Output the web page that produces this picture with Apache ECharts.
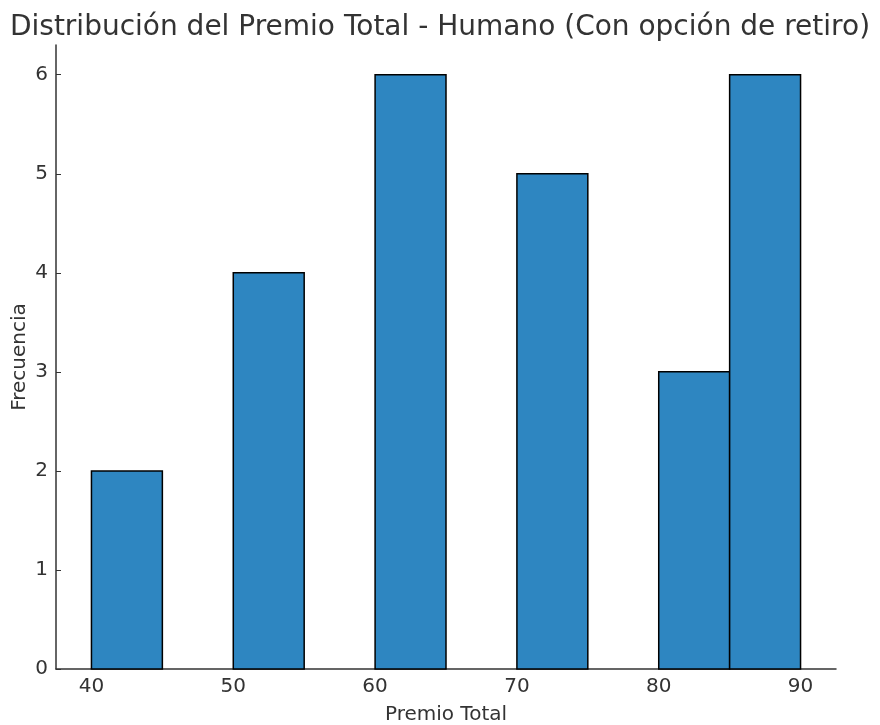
<!DOCTYPE html>
<html>
<head>
<meta charset="utf-8">
<script src="https://cdn.jsdelivr.net/npm/echarts@6/dist/echarts.min.js"></script>
<style>html,body{margin:0;padding:0;background:#fff}#c{width:880px;height:725px}</style>
</head>
<body>
<div id="c"></div>
<script>
const binEdges = [40, 45, 50, 55, 60, 65, 70, 75, 80, 85, 90];
const counts = [2, 0, 4, 0, 6, 0, 5, 0, 3, 6];
const xTicks = [40, 50, 60, 70, 80, 90];
const yTicks = [0, 1, 2, 3, 4, 5, 6];

const data = counts.map((c, i) => [binEdges[i], binEdges[i + 1], c]);

const chart = echarts.init(document.getElementById('c'));
const font = 'DejaVu Sans';
chart.setOption({
  animation: false,
  backgroundColor: '#fff',
  title: {
    text: 'Distribución del Premio Total - Humano (Con opción de retiro)',
    left: 'center', top: 9,
    textStyle: {fontFamily: font, fontSize: 28, fontWeight: 'normal', color: '#333'}
  },
  grid: {left: 56, right: 44, top: 45, bottom: 56, containLabel: false, outerBoundsMode: 'none'},
  xAxis: {
    type: 'value', min: 37.5, max: 92.5,
    name: 'Premio Total', nameLocation: 'middle', nameGap: 36, nameMoveOverlap: false,
    nameTextStyle: {fontFamily: font, fontSize: 20, color: '#333'},
    axisLine: {show: true, lineStyle: {color: '#333', width: 1.5}},
    axisTick: {show: true, inside: true, length: 5, customValues: xTicks, lineStyle: {color: '#333'}},
    axisLabel: {customValues: xTicks, fontFamily: font, fontSize: 20, color: '#333', margin: 8},
    splitLine: {show: false}
  },
  yAxis: {
    type: 'value', min: 0, max: 6.3,
    name: 'Frecuencia', nameLocation: 'middle', nameGap: 26, nameRotate: 90, nameMoveOverlap: false,
    nameTextStyle: {fontFamily: font, fontSize: 20, color: '#333'},
    axisLine: {show: true, lineStyle: {color: '#333', width: 1.5}},
    axisTick: {show: true, inside: true, length: 5, customValues: yTicks, lineStyle: {color: '#333'}},
    axisLabel: {customValues: yTicks, fontFamily: font, fontSize: 20, color: '#333', margin: 8},
    splitLine: {show: false}
  },
  series: [{
    type: 'custom',
    data: data,
    encode: {x: [0, 1], y: 2},
    renderItem: function (params, api) {
      const c = api.value(2);
      if (c <= 0) return null;
      const p0 = api.coord([api.value(0), c]);
      const p1 = api.coord([api.value(1), 0]);
      return {
        type: 'rect',
        shape: {x: p0[0], y: p0[1], width: p1[0] - p0[0], height: p1[1] - p0[1]},
        style: {fill: '#2e86c1', stroke: '#000', lineWidth: 1.5}
      };
    }
  }]
});
</script>
</body>
</html>
